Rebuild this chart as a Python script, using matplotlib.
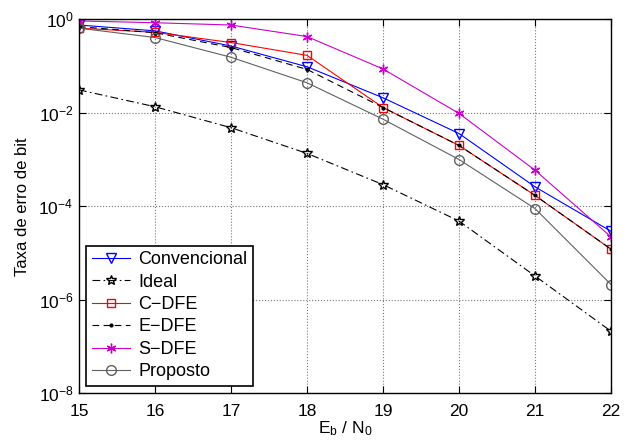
import matplotlib
matplotlib.use('Agg')
import matplotlib.pyplot as plt
import numpy as np

plt.rcParams['font.family'] = ['Liberation Sans', 'DejaVu Sans']
plt.rcParams['mathtext.fontset'] = 'custom'
plt.rcParams['mathtext.rm'] = 'Liberation Sans'
plt.rcParams['mathtext.it'] = 'Liberation Sans'
plt.rcParams['mathtext.default'] = 'regular'

ebn0 = [15, 16, 17, 18, 19, 20, 21, 22]
convencional = [0.76, 0.57, 0.27, 0.097, 0.021, 0.0036, 2.6e-4, 2.9e-5]
ideal = [0.031, 0.0135, 0.0048, 0.00135, 2.9e-4, 4.8e-5, 3.2e-6, 2.1e-7]
c_dfe = [0.65, 0.53, 0.32, 0.17, 0.013, 0.0020, 1.7e-4, 1.2e-5]
e_dfe = [0.70, 0.52, 0.25, 0.085, 0.013, 0.0020, 1.7e-4, 1.2e-5]
s_dfe = [0.93, 0.85, 0.76, 0.43, 0.087, 0.0097, 5.9e-4, 2.2e-5]
proposto = [0.65, 0.41, 0.155, 0.044, 0.0073, 0.0010, 8.9e-5, 2.1e-6]

fig = plt.figure(figsize=(6.29, 4.42), dpi=100)
ax = fig.add_axes([0.1256, 0.111, 0.8458, 0.845])

asterisk = (6, 2, 0)
ax.semilogy(ebn0, convencional, '-v', color='blue', mfc='none', ms=7, lw=0.8, label='Convencional')
ax.semilogy(ebn0, ideal, linestyle=(0, (7, 3, 1.5, 3)), marker='*', color='black', mfc='none', ms=7, lw=0.8, label='Ideal')
ax.semilogy(ebn0, c_dfe, '-s', color='red', mfc='none', ms=5.5, lw=0.8, label='C\u2212DFE')
ax.semilogy(ebn0, e_dfe, linestyle=(0, (6, 4)), marker='.', color='black', ms=4, lw=0.8, label='E\u2212DFE')
ax.semilogy(ebn0, s_dfe, '-', marker=asterisk, color='#cc00cc', ms=7, mew=1.0, lw=0.8, label='S\u2212DFE')
ax.semilogy(ebn0, proposto, '-o', color='#606060', mfc='none', ms=7, lw=0.8, label='Proposto')

ax.set_xlim(15, 22)
ax.set_ylim(1e-8, 1)
ax.set_xticks(ebn0)
ax.set_yticks([1e-8, 1e-6, 1e-4, 1e-2, 1])
ax.minorticks_off()
ax.tick_params(direction='in', top=True, right=True, labelsize=12.5, length=5)
ax.tick_params(axis='x', pad=8)
ax.tick_params(axis='y', pad=4)
ax.grid(True, linestyle=':', color='#777777', lw=0.8)
for s in ax.spines.values():
    s.set_linewidth(1.0)

ax.set_xlabel('$E_b$ / $N_0$', fontsize=12.5, labelpad=0)
ax.set_ylabel('Taxa de erro de bit', fontsize=12, labelpad=6)

leg = ax.legend(loc='lower left', fontsize=13, fancybox=False, edgecolor='black',
                framealpha=1, borderaxespad=0.4, handlelength=2.1, numpoints=1,
                labelspacing=0.3, borderpad=0.3, handletextpad=0.5)
leg.get_frame().set_linewidth(1.2)

fig.savefig('out.png', dpi=100)
